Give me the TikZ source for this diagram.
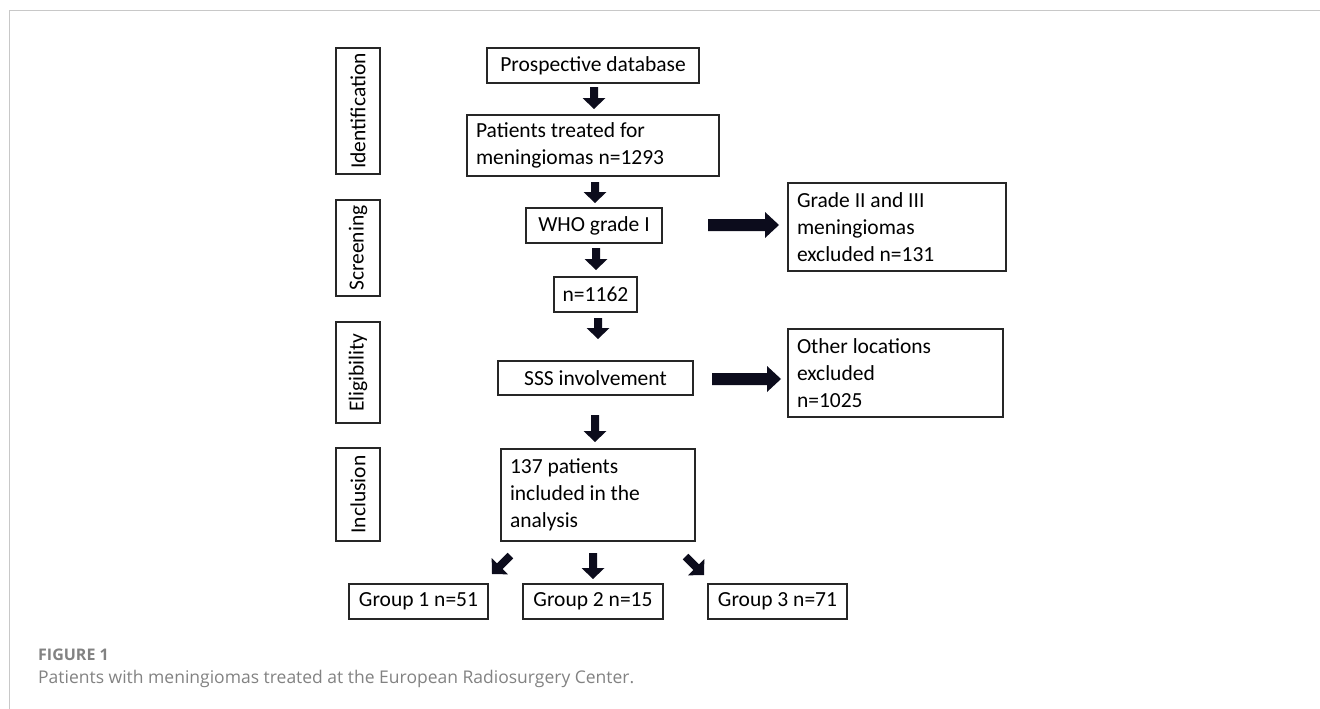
\documentclass[tikz,border=0pt]{standalone}
\usepackage{fontspec}
\setmainfont{Carlito}
\newfontfamily\capfont{Open Sans}
\definecolor{arrowc}{RGB}{12,12,28}
\definecolor{framec}{RGB}{200,200,200}
\definecolor{capc}{RGB}{130,130,130}
\begin{document}
\begin{tikzpicture}[x=1pt,y=-1pt,
  box/.style={draw=black!85,line width=1.2pt,inner sep=0pt,font=\fontsize{21.5}{27}\selectfont},
  lbox/.style={box,align=flush left,inner xsep=9pt,text width=#1},
  side/.style={box,rotate=90,minimum height=44pt},
  vblock/.pic={\fill[arrowc] (0,0) -- (-11.5,-11) -- (-4,-11) -- (-4,-#1) -- (4,-#1) -- (4,-11) -- (11.5,-11) -- cycle;},
  hblock/.pic={\fill[arrowc] (0,0) -- (-14,-13) -- (-14,-6) -- (-#1,-6) -- (-#1,6) -- (-14,6) -- (-14,13) -- cycle;}
]
\useasboundingbox (0,0) rectangle (1320,709);
\draw[framec,line width=1pt] (9,709) -- (9,11) -- (1320,11);

% stage labels
\node[side,minimum width=126pt] (sid) at (358,111) {Identification};
\node[side,minimum width=96pt] (sscr) at (358,248) {Screening};
\node[side,minimum width=101pt] (selig) at (358,372.5) {Eligibility};
\node[side,minimum width=93pt] (sincl) at (358,494.5) {Inclusion};

% main boxes
\node[box,minimum width=212pt,minimum height=35pt] (db) at (593,65.5) {Prospective database};
\node[lbox=234pt,minimum height=61pt] (pat) at (593,145.5) {Patients treated for\\meningiomas n=1293};
\node[box,minimum width=136pt,minimum height=35pt] (who) at (594,225.5) {WHO grade I};
\node[box,minimum width=83pt,minimum height=35pt] (n1162) at (595.5,294.5) {n=1162};
\node[box,minimum width=195pt,minimum height=34pt] (sss) at (595.5,378) {SSS involvement};
\node[lbox=176pt,minimum height=92pt] (incl) at (598,495) {137 patients\\included in the\\analysis};
\node[lbox=200pt,minimum height=88pt] (grade) at (897,227) {Grade II and III\\meningiomas\\excluded n=131};
\node[lbox=197pt,minimum height=88pt] (other) at (895.5,373) {Other locations\\excluded\\n=1025};
\node[box,minimum width=139pt,minimum height=35pt] (g1) at (418.5,601.5) {Group 1 n=51};
\node[box,minimum width=140pt,minimum height=35pt] (g2) at (593,601.5) {Group 2 n=15};
\node[box,minimum width=139pt,minimum height=35pt] (g3) at (777.5,601.5) {Group 3 n=71};

% block arrows
\pic at (594,109) {vblock=22};
\pic at (595,203) {vblock=21};
\pic at (596,270) {vblock=22};
\pic at (598,339) {vblock=21};
\pic at (595,442) {vblock=27};
\pic at (779,225) {hblock=71};
\pic at (781,379) {hblock=69};
\pic[rotate=-45] at (492,574) {vblock=26};
\pic at (593,579) {vblock=26};
\pic[rotate=45] at (704,575) {vblock=26};

% caption
\node[anchor=base west,inner sep=0pt,text=capc,font=\capfont\bfseries\fontsize{16}{18}\selectfont] (fig) at (38,660) {FIGURE 1};
\node[anchor=base west,inner sep=0pt,text=capc,font=\capfont\fontsize{17.5}{20}\selectfont] (cap) at (38,683) {Patients with meningiomas treated at the European Radiosurgery Center.};
\end{tikzpicture}
\end{document}
